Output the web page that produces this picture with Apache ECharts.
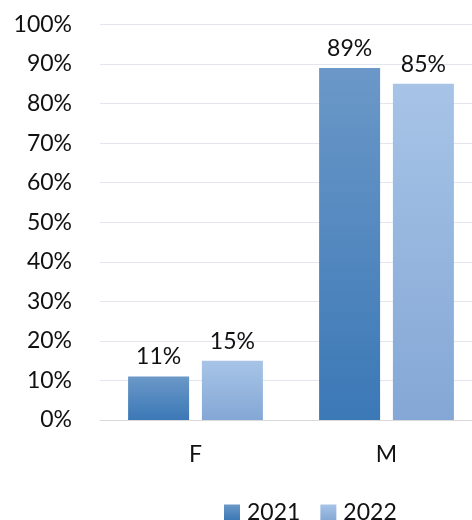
<!DOCTYPE html>
<html>
<head>
<meta charset="utf-8">
<script src="https://cdn.jsdelivr.net/npm/echarts@6/dist/echarts.min.js"></script>
<style>html,body{margin:0;padding:0;background:#fff}#c{width:472px;height:520px}</style>
</head>
<body>
<div id="c"></div>
<script>
const categories = ['F', 'M'];
const series2021 = [11, 89];
const series2022 = [15, 85];
const seriesNames = ['2021', '2022'];
const yTicks = [0, 10, 20, 30, 40, 50, 60, 70, 80, 90, 100];

const FONT = 'Lato';
const FS = 23;
function grad(top, bottom) {
  return new echarts.graphic.LinearGradient(0, 0, 0, 1, [
    { offset: 0, color: top }, { offset: 1, color: bottom }
  ]);
}
const chart = echarts.init(document.getElementById('c'));
const labelCfg = {
  show: true, position: 'top', distance: 8,
  formatter: p => p.value + '%',
  fontFamily: FONT, fontSize: FS, color: '#111'
};
chart.setOption({
  animation: false,
  textStyle: { fontFamily: FONT },
  grid: { left: 100, top: 24.5, width: 382, bottom: 100, containLabel: false, outerBoundsMode: 'none' },
  legend: {
    left: 219, top: 496,
    itemWidth: 16, itemHeight: 16, itemGap: 20,
    icon: 'rect',
    textStyle: { fontFamily: FONT, fontSize: FS, color: '#111', padding: [0, 0, 0, 2] },
    data: seriesNames
  },
  xAxis: {
    type: 'category', data: categories,
    axisLine: { show: true, lineStyle: { color: '#d9d9d9', width: 1 } },
    axisTick: { show: false },
    axisLabel: { fontFamily: FONT, fontSize: FS, color: '#111', margin: 23 }
  },
  yAxis: {
    type: 'value', min: yTicks[0], max: yTicks[yTicks.length - 1], interval: 10,
    axisLine: { show: false }, axisTick: { show: false },
    splitLine: { lineStyle: { color: '#e3e6ee', width: 1 } },
    axisLabel: { fontFamily: FONT, fontSize: FS, color: '#111', margin: 28, formatter: v => v + '%' }
  },
  series: [
    {
      name: seriesNames[0], type: 'bar', data: series2021, barWidth: 61, barGap: '21%',
      itemStyle: { color: grad('#6b98c8', '#3b78b6') }, label: labelCfg
    },
    {
      name: seriesNames[1], type: 'bar', data: series2022, barWidth: 61,
      itemStyle: { color: grad('#a7c4e7', '#84a7d5') }, label: labelCfg
    }
  ]
});
</script>
</body>
</html>
